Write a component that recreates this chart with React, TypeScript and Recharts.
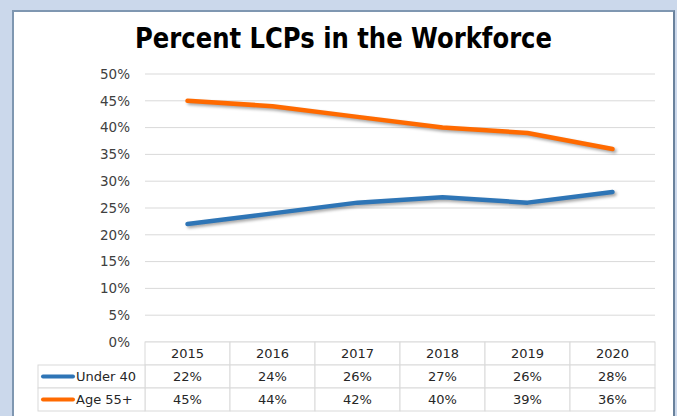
import React from 'react';
import { LineChart, Line, XAxis, YAxis, CartesianGrid } from 'recharts';

const years = ['2015', '2016', '2017', '2018', '2019', '2020'];
const under40 = [22, 24, 26, 27, 26, 28];
const age55 = [45, 44, 42, 40, 39, 36];
const yTicks = [0, 5, 10, 15, 20, 25, 30, 35, 40, 45, 50];
const seriesNames = ['Under 40', 'Age 55+'];
const seriesColors = ['#2E75B6', '#FF6A00'];
const seriesValues = [under40, age55];

const data = years.map((y, i) => ({ year: y, under40: under40[i], age55: age55[i] }));

const FONT = '"DejaVu Sans", Verdana, sans-serif';
const GRID = '#d9d9d9';
const TXT = '#262626';

const COLW = 85;
const ROWH = 23;

const TableTick = (props: any) => {
  const { x, y, index } = props;
  const left = x - COLW / 2;
  const cells: React.ReactNode[] = [];
  cells.push(
    <g key="h">
      <rect x={left} y={y} width={COLW} height={ROWH} fill="#fff" stroke={GRID} strokeWidth={1} />
      <text x={x} y={y + 16} textAnchor="middle" fontSize={13} fontFamily={FONT} fill={TXT}>
        {years[index]}
      </text>
    </g>
  );
  seriesValues.forEach((vals, r) => {
    const ry = y + ROWH * (r + 1);
    cells.push(
      <g key={'r' + r}>
        <rect x={left} y={ry} width={COLW} height={ROWH} fill="#fff" stroke={GRID} strokeWidth={1} />
        <text x={x} y={ry + 16} textAnchor="middle" fontSize={13} fontFamily={FONT} fill={TXT}>
          {vals[index] + '%'}
        </text>
      </g>
    );
    if (index === 0) {
      const lx = left - 107;
      cells.push(
        <g key={'l' + r}>
          <rect x={lx} y={ry} width={107} height={ROWH} fill="#fff" stroke={GRID} strokeWidth={1} />
          <line x1={lx + 5} y1={ry + 11.5} x2={lx + 35} y2={ry + 11.5} stroke={seriesColors[r]} strokeWidth={4} strokeLinecap="round" />
          <text x={lx + 38} y={ry + 16} textAnchor="start" fontSize={13} fontFamily={FONT} fill={TXT}>
            {seriesNames[r]}
          </text>
        </g>
      );
    }
  });
  return <g>{cells}</g>;
};

export default function App() {
  return (
    <div style={{ position: 'absolute', left: 0, top: 0, width: 677, height: 416, background: '#cbd8eb', overflow: 'hidden' }}>
      <style>{`.shadowline path { filter: drop-shadow(2px 2px 1.5px rgba(0,0,0,0.35)); }`}</style>
      <div
        style={{
          position: 'absolute',
          left: 12,
          top: 10,
          width: 659,
          height: 420,
          background: '#fff',
          borderTop: '2px solid #7f97b1',
          borderLeft: '2px solid #7f97b1',
          borderRight: '2px solid #6a829c',
        }}
      />
      <svg style={{ position: 'absolute', left: 0, top: 0 }} width={677} height={70}>
        <text
          x={343.5}
          y={48}
          textAnchor="middle"
          fontSize={28}
          fontWeight="bold"
          fontFamily={FONT}
          fill="#000"
          textLength={417}
          lengthAdjust="spacingAndGlyphs"
        >
          Percent LCPs in the Workforce
        </text>
      </svg>
      <div style={{ position: 'absolute', left: 0, top: 0 }}>
        <LineChart width={677} height={416} data={data} margin={{ top: 74, right: 22, bottom: 0, left: 0 }}>
          <CartesianGrid horizontal vertical={false} stroke={GRID} strokeWidth={1} />
          <XAxis
            dataKey="year"
            height={74}
            axisLine={false}
            tickLine={false}
            tickSize={0}
            tickMargin={0}
            padding={{ left: 42.5, right: 42.5 }}
            tick={<TableTick />}
            interval={0}
          />
          <YAxis
            width={145}
            domain={[0, 50]}
            ticks={yTicks}
            axisLine={false}
            tickLine={false}
            tickSize={0}
            tickMargin={15}
            tickFormatter={(v: number) => v + '%'}
            tick={{ fontSize: 13.5, fontFamily: FONT, fill: '#404040' }}
            interval={0}
          />
          <Line
            dataKey="under40"
            stroke={seriesColors[0]}
            strokeWidth={4.5}
            dot={false}
            activeDot={false}
            className="shadowline"
            isAnimationActive={false}
            strokeLinecap="round"
            strokeLinejoin="round"
          />
          <Line
            dataKey="age55"
            stroke={seriesColors[1]}
            strokeWidth={4.5}
            dot={false}
            activeDot={false}
            className="shadowline"
            isAnimationActive={false}
            strokeLinecap="round"
            strokeLinejoin="round"
          />
        </LineChart>
      </div>
    </div>
  );
}
